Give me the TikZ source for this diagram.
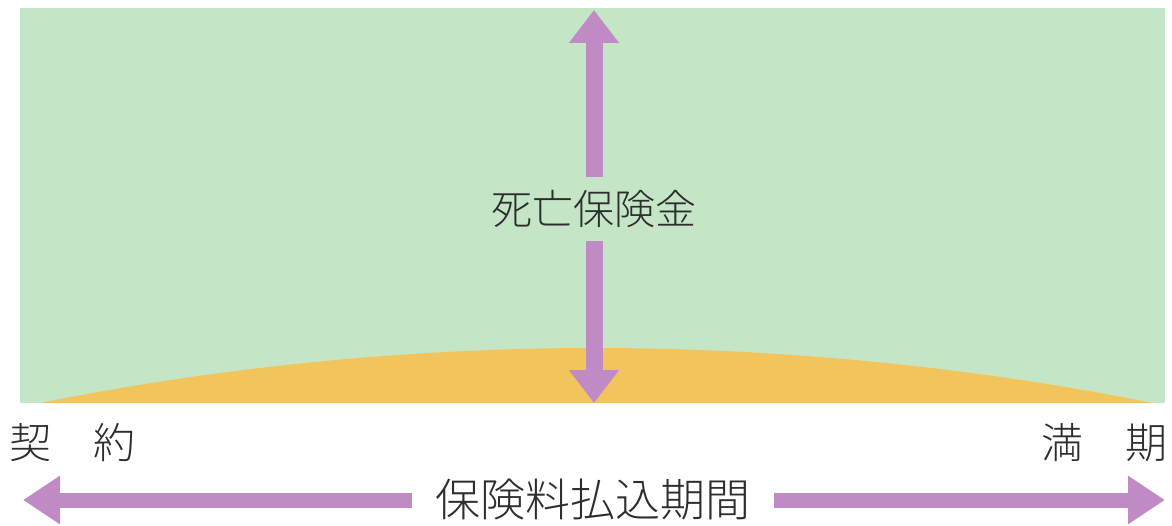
\documentclass[tikz,border=0pt]{standalone}
\usepackage{fontspec}
\newfontfamily\jp{Noto Sans CJK JP}[UprightFont={* Light}]
\usetikzlibrary{arrows.meta}
\definecolor{bggreen}{RGB}{197,230,198}
\definecolor{payyellow}{RGB}{242,196,92}
\definecolor{arrowpurple}{RGB}{192,138,197}
\definecolor{txtgray}{RGB}{45,45,45}
\begin{document}
\begin{tikzpicture}[x=1pt, y=-1pt,
  jptext/.style={text=txtgray, inner sep=0pt},
  bigarrow/.style={arrowpurple, -{Triangle[width=48pt,length=33pt]}, line width=17pt}]
\useasboundingbox (0,0) rectangle (1172,526);
\fill[bggreen] (20,8) rectangle (1165,403);
\fill[payyellow] (40,403) parabola bend (594,348) (1153,403) -- cycle;
\node (death) [jptext, font=\jp\fontsize{41}{41}\selectfont, minimum height=64pt] at (594,209) {死亡保険金};
\coordinate (deathtop) at (594,10);
\coordinate (deathbottom) at (594,403);
\draw[bigarrow] (death) -- (deathtop);
\draw[bigarrow] (death) -- (deathbottom);
\node (start) [jptext, font=\jp\fontsize{42}{42}\selectfont, anchor=west] at (9,443) {契　約};
\node (maturity) [jptext, font=\jp\fontsize{42}{42}\selectfont, anchor=east] at (1168,443) {満　期};
\node (period) [jptext, font=\jp\fontsize{45}{45}\selectfont, minimum width=362pt] at (593,500) {保険料払込期間};
\coordinate (paystart) at (23,500);
\coordinate (payend) at (1165,500);
\draw[bigarrow, line width=15pt, -{Triangle[width=46pt,length=37pt]}] (period) -- (paystart);
\draw[bigarrow, line width=15pt, -{Triangle[width=46pt,length=37pt]}] (period) -- (payend);
\end{tikzpicture}
\end{document}
